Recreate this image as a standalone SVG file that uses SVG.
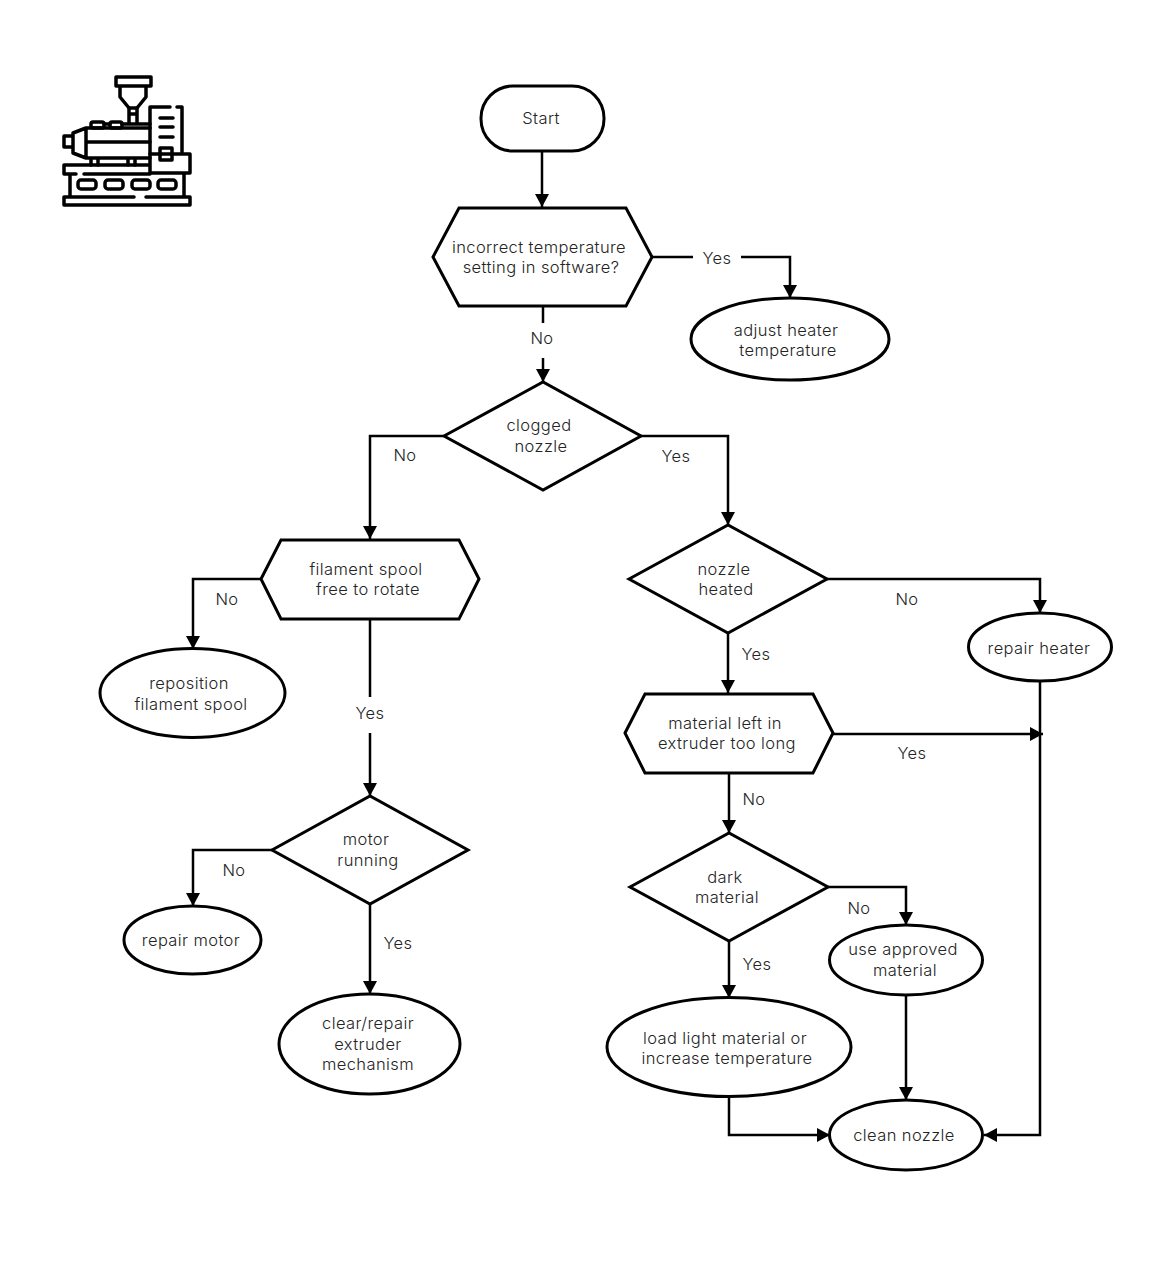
<svg xmlns="http://www.w3.org/2000/svg" width="1175" height="1266" viewBox="0 0 1175 1266">
<defs><marker id="a" markerUnits="userSpaceOnUse" markerWidth="16" markerHeight="16" refX="13" refY="7.5" orient="auto"><path d="M0 0.5L13 7.5L0 14.5Z" fill="#000"/></marker></defs>
<style>
.s{fill:#fff;stroke:#000;stroke-width:3}
.c{fill:none;stroke:#000;stroke-width:2.5;marker-end:url(#a)}
.l{fill:none;stroke:#000;stroke-width:2.5}
text{font-family:Inter,"Liberation Sans",sans-serif;font-size:16.5px;font-weight:300;letter-spacing:.4px;fill:#222;text-anchor:middle;opacity:.99}
.i{fill:none;stroke:#000;stroke-width:3.5;stroke-linecap:round;stroke-linejoin:round}
</style>
<rect width="1175" height="1266" fill="#fff"/>
<g id="icon">
<path class="i" d="M68 174H64V165H150M68 174H76M84 174H150V154H190V173H150M70 174V197M184 173V197M64 197V205H190V197H146M134 197H64"/>
<rect class="i" x="78" y="180" width="18" height="9" rx="3"/>
<rect class="i" x="105" y="180" width="18" height="9" rx="3"/>
<rect class="i" x="132" y="180" width="18" height="9" rx="3"/>
<rect class="i" x="158" y="180" width="18" height="9" rx="3"/>
<path class="i" d="M86 128H150M86 128V158H150M86 142H150M86 128L73 133V153L86 158M73 136H64V147H73M91 158V165M98 158V165M128 158V165M135 158V165"/>
<rect class="i" x="91" y="122" width="13" height="6" rx="2"/>
<rect class="i" x="110" y="122" width="12" height="6" rx="2"/>
<path class="i" d="M104 124H110M122 124H150M129 108V123M137 108V123M129 114H137"/>
<path class="i" d="M120 86V97L129 108H137L146 97V86M116 77H151V86H116ZM132 86H142"/>
<path class="i" d="M150 154V107H170M177 107H182V152M160 118H173M160 127H173M160 137H173M160 148H172V160H160Z"/>
</g>
<g id="connectors">
<path class="c" d="M542 151V207"/>
<path class="l" d="M652 257H693"/><path class="c" d="M741 257H790V298"/>
<path class="l" d="M543 307V323"/><path class="c" d="M543 358V382"/>
<path class="c" d="M444 436H370V539"/>
<path class="c" d="M641 436H728V525"/>
<path class="c" d="M261 579H193V649"/>
<path class="l" d="M370 619V697"/><path class="c" d="M370 733V796"/>
<path class="c" d="M272 850H193V906"/>
<path class="c" d="M370 904V994"/>
<path class="c" d="M827 579H1040V613"/>
<path class="c" d="M728 633V693"/>
<path class="c" d="M833 734H1043"/>
<path class="c" d="M729 773V833"/>
<path class="c" d="M828 887H906V925"/>
<path class="c" d="M729 941V998"/>
<path class="c" d="M906 995V1100"/>
<path class="c" d="M729 1097V1135H830"/>
<path class="c" d="M1040 681V1135H984"/>
</g>
<g id="start"><rect class="s" x="481" y="86" width="123" height="65" rx="32"/><text x="541" y="124">Start</text></g>
<g id="n1"><path class="s" d="M433 257L459 208H626L652 257L626 306H459Z"/><text x="539" y="253">incorrect temperature</text><text x="541" y="273">setting in software?</text></g>
<g id="n2"><ellipse class="s" cx="790" cy="339" rx="99" ry="41"/><text x="786" y="336">adjust heater</text><text x="788" y="356">temperature</text></g>
<g id="n3"><path class="s" d="M444 436L543 382L641 436L543 490Z"/><text x="539" y="431">clogged</text><text x="541" y="452">nozzle</text></g>
<g id="n4"><path class="s" d="M261 579L281 540H459L479 579L459 619H281Z"/><text x="366" y="575">filament spool</text><text x="368" y="595">free to rotate</text></g>
<g id="n5"><ellipse class="s" cx="192.500" cy="693" rx="92.500" ry="44.500"/><text x="189" y="689">reposition</text><text x="191" y="710">filament spool</text></g>
<g id="n6"><path class="s" d="M272 850L370 796L468 850L370 904Z"/><text x="366" y="845">motor</text><text x="368" y="866">running</text></g>
<g id="n7"><ellipse class="s" cx="192.500" cy="940" rx="68.500" ry="34"/><text x="191" y="946">repair motor</text></g>
<g id="n8"><ellipse class="s" cx="369.500" cy="1044" rx="90.500" ry="50"/><text x="368" y="1029">clear/repair</text><text x="368" y="1050">extruder</text><text x="368" y="1070">mechanism</text></g>
<g id="n9"><path class="s" d="M629 579L728 525L827 579L728 633Z"/><text x="724" y="575">nozzle</text><text x="726" y="595">heated</text></g>
<g id="n10"><ellipse class="s" cx="1040" cy="647" rx="71.500" ry="34"/><text x="1039" y="654">repair heater</text></g>
<g id="n11"><path class="s" d="M625 733L645 694H813L833 733L813 773H645Z"/><text x="725" y="729">material left in</text><text x="727" y="749">extruder too long</text></g>
<g id="n12"><path class="s" d="M630 887L729 833L828 887L729 941Z"/><text x="725" y="883">dark</text><text x="727" y="903">material</text></g>
<g id="n13"><ellipse class="s" cx="906" cy="960" rx="76.500" ry="35"/><text x="903" y="955">use approved</text><text x="905" y="976">material</text></g>
<g id="n14"><ellipse class="s" cx="729" cy="1047" rx="122" ry="49.500"/><text x="725" y="1044">load light material or</text><text x="727" y="1064">increase temperature</text></g>
<g id="n15"><ellipse class="s" cx="906" cy="1135" rx="76.500" ry="35"/><text x="904" y="1141">clean nozzle</text></g>
<g id="labels">
<text x="717" y="263.500">Yes</text><text x="542" y="344">No</text><text x="405" y="461">No</text><text x="676" y="462">Yes</text>
<text x="227" y="605">No</text><text x="370" y="719">Yes</text><text x="234" y="876">No</text><text x="398" y="949">Yes</text>
<text x="907" y="605">No</text><text x="756" y="660">Yes</text><text x="912" y="759">Yes</text><text x="754" y="805">No</text>
<text x="859" y="914">No</text><text x="757" y="970">Yes</text>
</g>
</svg>
